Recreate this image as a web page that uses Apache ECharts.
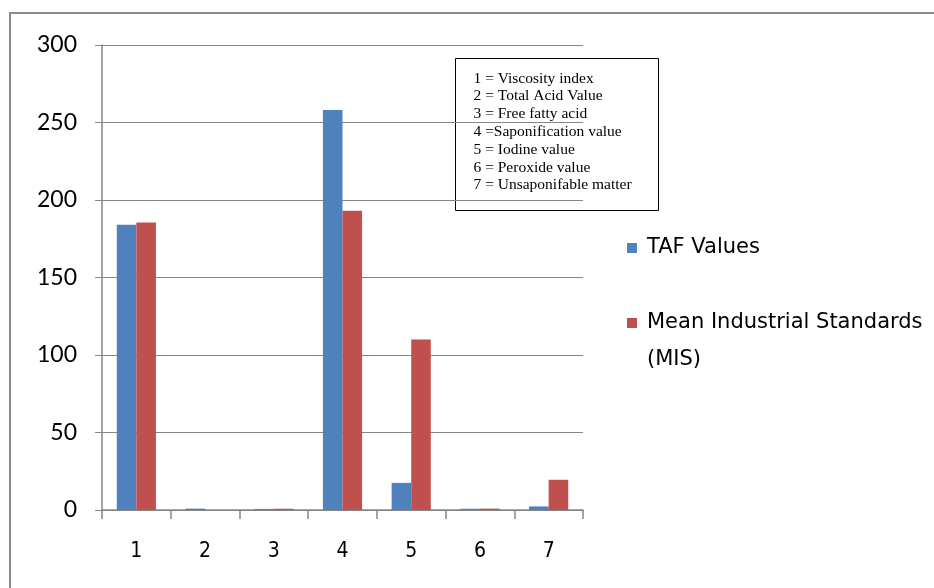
<!DOCTYPE html>
<html>
<head>
<meta charset="utf-8">
<script src="https://cdn.jsdelivr.net/npm/echarts@6/dist/echarts.min.js"></script>
<style>
  html, body { margin: 0; padding: 0; background: #ffffff; }
  #chart { width: 934px; height: 588px; }
</style>
</head>
<body>
<div id="chart"></div>
<script>
// Property index (1..7) and measured values
const categories = ['1', '2', '3', '4', '5', '6', '7'];
const tafValues = [184, 0.9, 0.7, 258, 17.5, 0.8, 2.3];
const misValues = [185.5, 0, 0.8, 193, 110, 0.9, 19.5];
const yTicks = { min: 0, max: 300, step: 50 };
const seriesNames = ['TAF Values', 'Mean Industrial Standards (MIS)'];
const keyLines = [
  '1 = Viscosity index',
  '2 = Total Acid Value',
  '3 = Free fatty acid',
  '4 =Saponification value',
  '5 = Iodine value',
  '6 = Peroxide value',
  '7 = Unsaponifable matter'
];

const BLUE = '#4F81BD';
const RED = '#C0504D';
const GREY = '#868686';
const LEGEND_FONT = '"DejaVu Sans", Verdana, sans-serif';

const chart = echarts.init(document.getElementById('chart'), null, { renderer: 'canvas' });

// Key box listing what each index number stands for
const keyChildren = [{
  type: 'rect',
  shape: { x: 0, y: 0, width: 203, height: 152 },
  style: { fill: '#ffffff', stroke: '#000000', lineWidth: 1 }
}];
keyLines.forEach((t, i) => {
  keyChildren.push({
    type: 'text',
    style: {
      x: 18, y: 20 + i * 17.8, text: t,
      font: '15.5px "Liberation Serif", "Times New Roman", serif',
      fill: '#000000', verticalAlign: 'middle'
    }
  });
});

const legendText = {
  fontFamily: LEGEND_FONT, fontSize: 21, lineHeight: 24, color: '#000',
  padding: [0, 0, 0, 5]
};

const option = {
  backgroundColor: '#ffffff',
  animation: false,
  grid: { left: 102, right: 351, top: 45, bottom: 78, containLabel: false },
  legend: [
    {
      data: [seriesNames[0]],
      left: 627, top: 236, padding: 0,
      icon: 'rect', itemWidth: 10, itemHeight: 10,
      textStyle: legendText
    },
    {
      data: [seriesNames[1]],
      left: 627, top: 311, padding: 0,
      icon: 'rect', itemWidth: 10, itemHeight: 10,
      // second line "(MIS)" is drawn underneath as its own text
      formatter: (name) => name.replace(' (MIS)', ''),
      textStyle: legendText
    }
  ],
  xAxis: {
    type: 'category',
    data: categories,
    boundaryGap: true,
    axisLine: { lineStyle: { color: GREY, width: 1.5 } },
    axisTick: { show: true, length: 9, alignWithLabel: false, lineStyle: { color: GREY, width: 1.5 } },
    axisLabel: {
      margin: 31, color: '#000',
      fontFamily: '"Liberation Sans Narrow", "DejaVu Sans Condensed", sans-serif',
      fontSize: 21
    },
    splitLine: { show: false }
  },
  yAxis: {
    type: 'value',
    min: yTicks.min, max: yTicks.max, interval: yTicks.step,
    axisLine: { show: true, lineStyle: { color: GREY, width: 1.5 } },
    axisTick: { show: true, length: 7, lineStyle: { color: GREY, width: 1 } },
    axisLabel: {
      margin: 25, color: '#000',
      fontFamily: 'Lato, "Open Sans", sans-serif', fontSize: 23
    },
    splitLine: { show: true, lineStyle: { color: GREY, width: 1 } }
  },
  series: [
    {
      name: seriesNames[0], type: 'bar', data: tafValues,
      itemStyle: { color: BLUE },
      barGap: '0%', barCategoryGap: '43%'
    },
    {
      name: seriesNames[1], type: 'bar', data: misValues,
      itemStyle: { color: RED },
      barGap: '0%', barCategoryGap: '43%'
    }
  ],
  graphic: [
    {
      type: 'rect', z: 0, silent: true,
      shape: { x: 10, y: 13, width: 1000, height: 1000 },
      style: { fill: 'none', stroke: '#8c8c8c', lineWidth: 2 }
    },
    {
      type: 'group', left: 455, top: 58, z: 100,
      children: keyChildren
    },
    {
      type: 'text', z: 100,
      style: {
        x: 647, y: 360, text: '(MIS)',
        font: '21px ' + LEGEND_FONT, fill: '#000', verticalAlign: 'middle'
      }
    }
  ]
};

chart.setOption(option);
</script>
</body>
</html>
